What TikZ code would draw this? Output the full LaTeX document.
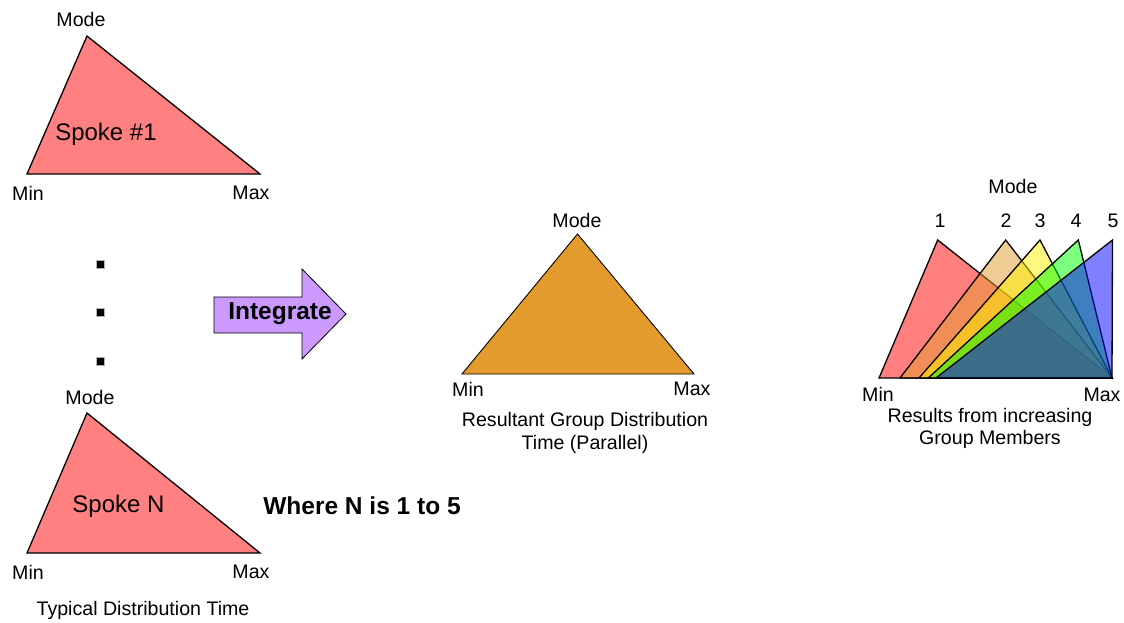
\documentclass[tikz,border=0pt]{standalone}
\usepackage{fontspec}
\setmainfont{Liberation Sans}
\begin{document}
\begin{tikzpicture}[x=1pt,y=-1pt,
  lbl/.style={inner sep=0pt,font=\fontsize{19.6}{22}\selectfont},
  big/.style={inner sep=0pt,font=\fontsize{24}{26}\selectfont},
  bigb/.style={inner sep=0pt,font=\fontsize{24.5}{26}\selectfont\bfseries},
  spoke/.style={draw=black,line width=1.3pt,fill=spokered,line join=miter},
  res/.style={draw=black,line width=0.9pt,fill=resorange},
  layer/.style={draw=black,line width=1.3pt,fill opacity=0.5,line join=miter},
  dot/.style={fill=black,draw=gray!60,line width=0.4pt}]
\definecolor{spokered}{HTML}{FF8080}
\definecolor{resorange}{HTML}{E39B2E}
\definecolor{arrowpurple}{HTML}{CC99FF}
\useasboundingbox (0,0) rectangle (1124,623);
% top spoke
\coordinate (t1min) at (27,174);
\coordinate (t1mode) at (87,36);
\coordinate (t1max) at (260,174);
\draw[spoke] (t1min) -- (t1mode) -- (t1max) -- cycle;
\node[lbl] (t1lmode) at (81,19.5) {Mode};
\node[lbl] (t1lmin) at (28,193) {Min};
\node[lbl] (t1lmax) at (251,193) {Max};
\node[big] (t1name) at (106,134.5) {Spoke \#1};
% dots
\node[dot,minimum size=8pt,inner sep=0pt] (d1) at (100,264) {};
\node[dot,minimum size=8pt,inner sep=0pt] (d2) at (100,312.5) {};
\node[dot,minimum size=8pt,inner sep=0pt] (d3) at (100,361.5) {};
% bottom spoke
\coordinate (t2min) at (27,553);
\coordinate (t2mode) at (87,413);
\coordinate (t2max) at (260,553);
\draw[spoke] (t2min) -- (t2mode) -- (t2max) -- cycle;
\node[lbl] (t2lmode) at (90,397.5) {Mode};
\node[lbl] (t2lmin) at (28,572) {Min};
\node[lbl] (t2lmax) at (251,572) {Max};
\node[big] (t2name) at (118.5,506.5) {Spoke N};
\node[lbl] (typ) at (143,610) {Typical Distribution Time};
\node[bigb] (where) at (362,505.5) {Where N is 1 to 5};
% arrow
\draw[fill=arrowpurple,draw=black,line width=0.8pt,line join=miter]
  (214,297) -- (302,297) -- (302,269) -- (346,314) -- (302,359) -- (302,333) -- (214,333) -- cycle;
\node[bigb] (integ) at (280,314) {Integrate};
% resultant
\coordinate (rmin) at (462,374);
\coordinate (rmode) at (577.5,234);
\coordinate (rmax) at (694,374);
\draw[res] (rmin) -- (rmode) -- (rmax) -- cycle;
\node[lbl] (rlmode) at (577,220) {Mode};
\node[lbl] (rlmin) at (468,389) {Min};
\node[lbl] (rlmax) at (692,389) {Max};
\node[lbl] (rcap1) at (585,421) {Resultant Group Distribution};
\node[lbl] (rcap2) at (585,444) {Time (Parallel)};
% increasing group members
\coordinate (gmax) at (1112,378);
\draw[layer,fill=red] (879,378) -- (937.7,240) -- (gmax) -- cycle;
\draw[layer,fill=resorange] (900,378) -- (1005.7,240) -- (gmax) -- cycle;
\draw[layer,fill=yellow] (919,378) -- (1040,240) -- (gmax) -- cycle;
\draw[layer,fill=green] (928.3,378) -- (1078.3,240) -- (gmax) -- cycle;
\draw[layer,fill=blue] (936,378) -- (1112.5,240) -- (gmax) -- cycle;
\node[lbl] (glmode) at (1013,186) {Mode};
\node[lbl] (g1) at (940,221) {1};
\node[lbl] (g2) at (1006,221) {2};
\node[lbl] (g3) at (1040,221) {3};
\node[lbl] (g4) at (1076,221) {4};
\node[lbl] (g5) at (1113,221) {5};
\node[lbl] (glmin) at (878,394.5) {Min};
\node[lbl] (glmax) at (1102,394.5) {Max};
\node[lbl] (gcap1) at (990,417) {Results from increasing};
\node[lbl] (gcap2) at (990,439.5) {Group Members};
\end{tikzpicture}
\end{document}
